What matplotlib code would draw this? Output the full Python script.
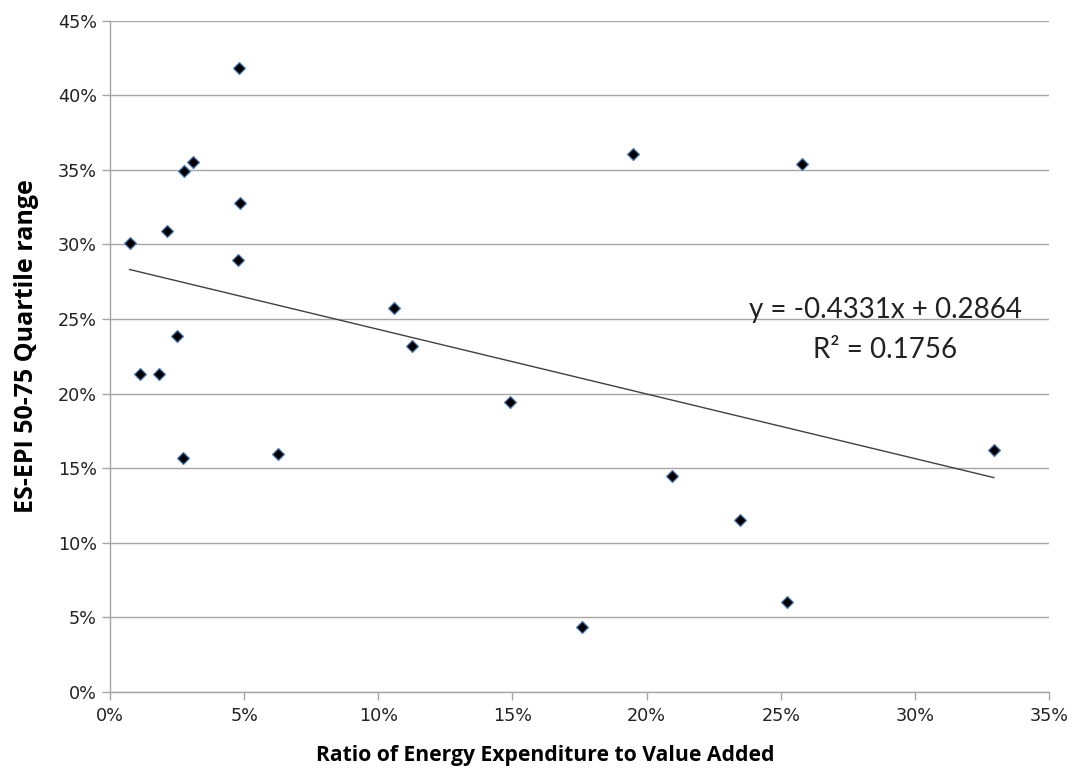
import matplotlib
matplotlib.use("Agg")
import matplotlib.pyplot as plt
from matplotlib.ticker import PercentFormatter, MultipleLocator

# ratio of energy expenditure to value added (fraction)
energy_ratio = [0.0073, 0.0111, 0.0181, 0.0212, 0.0248, 0.0272, 0.0275, 0.0308,
                0.0476, 0.0482, 0.0484, 0.0628, 0.1059, 0.1125, 0.1492, 0.1759,
                0.1951, 0.2096, 0.2347, 0.2525, 0.2578, 0.3294]
# ES-EPI 50-75 quartile range (fraction)
quartile_range = [0.3007, 0.2135, 0.2135, 0.3090, 0.2384, 0.1572, 0.3490, 0.3550,
                  0.2898, 0.4180, 0.3275, 0.1594, 0.2574, 0.2319, 0.1944, 0.0437,
                  0.3606, 0.1445, 0.1152, 0.0601, 0.3539, 0.1623]

# linear trendline as printed on the chart
slope = -0.4331
intercept = 0.2864
r_squared = 0.1756

fig = plt.figure(figsize=(10.75, 7.72), dpi=100)
ax = fig.add_axes([0.1023, 0.1036, 0.8736, 0.8696])

ax.plot(energy_ratio, quartile_range, linestyle="none", marker="D",
        markersize=6.5, markerfacecolor="black", markeredgecolor="#4a7ebb",
        markeredgewidth=0.9, zorder=3)

x0, x1 = min(energy_ratio), max(energy_ratio)
ax.plot([x0, x1], [slope * x0 + intercept, slope * x1 + intercept],
        color="#404040", linewidth=1.0, zorder=2)

ax.set_xlim(0, 0.35)
ax.set_ylim(0, 0.45)
ax.xaxis.set_major_locator(MultipleLocator(0.05))
ax.yaxis.set_major_locator(MultipleLocator(0.05))
ax.xaxis.set_major_formatter(PercentFormatter(1.0, decimals=0))
ax.yaxis.set_major_formatter(PercentFormatter(1.0, decimals=0))

ax.grid(axis="y", color="#a6a6a6", linewidth=1.0)
ax.set_axisbelow(True)
for side in ("top", "right"):
    ax.spines[side].set_visible(False)
for side in ("left", "bottom"):
    ax.spines[side].set_color("#a6a6a6")
    ax.spines[side].set_linewidth(1.0)
ax.tick_params(axis="both", colors="#a6a6a6", labelcolor="#222222",
               labelsize=12.7, length=6, width=1.0)
ax.tick_params(axis="x", pad=5)

label_family = ["Liberation Sans Narrow", "Open Sans", "DejaVu Sans"]
ax.set_xlabel("Ratio of Energy Expenditure to Value Added",
              family=label_family, fontsize=15.2, fontweight="bold")
ax.set_ylabel("ES-EPI 50-75 Quartile range",
              family=label_family, fontsize=18, fontweight="bold")
ax.xaxis.set_label_coords(0.463, -0.079)
ax.yaxis.set_label_coords(-0.076, 0.516)

eq_font = dict(family=["Lato", "DejaVu Sans"], fontsize=20, color="#222222")
ax.text(0.289, 0.256, f"y = {slope:.4f}x + {intercept:.4f}", ha="center",
        va="center", **eq_font)
ax.text(0.289, 0.229, f"R² = {r_squared:.4f}", ha="center", va="center", **eq_font)

fig.savefig("out.png", dpi=100)
